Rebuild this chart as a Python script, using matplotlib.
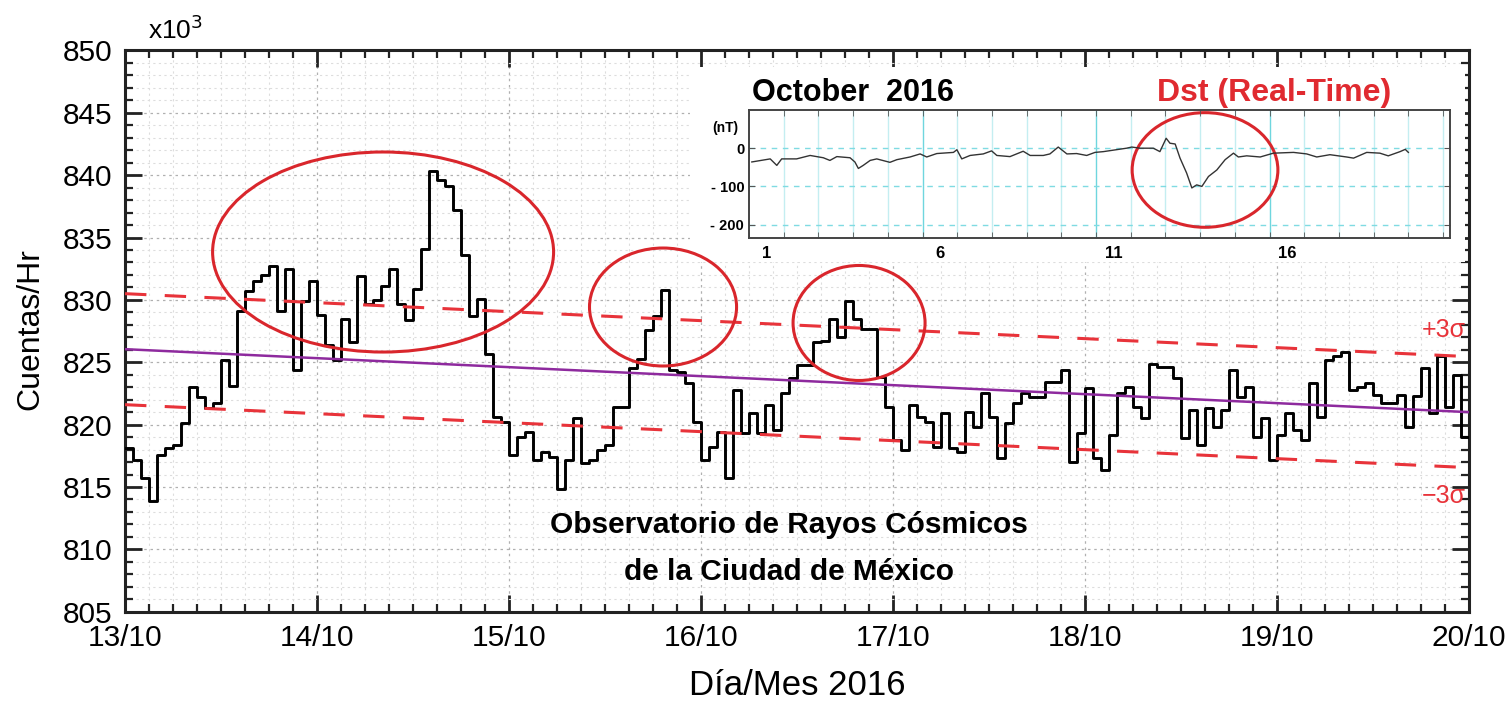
import numpy as np
import matplotlib
matplotlib.use('Agg')
from matplotlib import pyplot as plt
from matplotlib.patches import Ellipse, Rectangle

plt.rcParams['font.family'] = ['Liberation Sans', 'DejaVu Sans']

# cuentas por hora (x10^3), 13/10 00h .. 19/10 23h
counts = [818.1, 817.2, 815.7, 813.9, 817.6, 818.1, 818.4, 820.1, 823.0, 822.2, 821.3, 821.7,
          825.2, 823.1, 829.1, 830.7, 831.5, 832.0, 832.7, 829.1, 832.5, 824.4, 829.9, 831.5,
          828.8, 826.4, 825.2, 828.5, 826.6, 831.9, 829.7, 830.0, 831.1, 832.5, 829.7, 828.4,
          830.9, 834.1, 840.3, 839.6, 839.1, 837.2, 833.6, 828.7, 830.1, 825.7, 820.6, 820.2,
          817.6, 819.0, 819.4, 817.2, 817.8, 817.4, 814.8, 817.2, 820.5, 816.9, 817.2, 818.0,
          818.4, 821.4, 821.4, 824.5, 825.3, 827.6, 828.7, 830.8, 824.4, 824.2, 823.3, 820.2,
          817.2, 818.2, 819.4, 815.7, 822.8, 819.3, 820.9, 819.3, 821.6, 819.6, 822.5, 823.7,
          824.8, 824.8, 826.6, 826.7, 828.5, 827.0, 829.9, 828.5, 827.7, 827.7, 823.8, 821.4,
          818.8, 818.0, 821.6, 820.6, 820.2, 818.2, 820.9, 818.1, 817.8, 821.0, 819.8, 822.5,
          820.6, 817.3, 820.1, 821.7, 822.5, 822.2, 822.2, 823.4, 823.4, 824.4, 817.0, 819.3,
          822.9, 817.3, 816.4, 819.2, 822.5, 823.0, 821.4, 820.5, 824.9, 824.6, 824.6, 823.7,
          818.9, 821.2, 818.4, 821.3, 819.8, 821.2, 824.4, 822.2, 823.0, 819.0, 820.5, 817.2,
          819.2, 820.9, 819.6, 818.8, 823.3, 820.6, 825.2, 825.5, 825.8, 822.8, 823.0, 823.3,
          822.4, 821.7, 821.7, 822.4, 819.8, 822.3, 824.5, 820.9, 825.5, 821.4, 824.0, 819.0]
day_labels = ['13/10', '14/10', '15/10', '16/10', '17/10', '18/10', '19/10', '20/10']

# tendencia y banda de 3 sigma
trend_ends = [826.05, 821.0]
sigma3 = 4.45

# Dst (nT), dia del mes (desde 1 oct 00h)
dst_day = [0.08, 0.61, 0.80, 0.94, 1.37, 1.76, 2.14, 2.33, 2.53, 2.91, 3.05, 3.15, 3.29, 3.49,
           3.68, 4.06, 4.26, 4.64, 4.93, 5.12, 5.41, 5.89, 5.99, 6.13, 6.37, 6.75, 6.99, 7.14,
           7.52, 7.90, 8.10, 8.48, 8.67, 8.91, 9.16, 9.44, 9.73, 9.97, 10.21, 10.88, 11.03,
           11.27, 11.65, 11.84, 12.02, 12.13, 12.28, 12.42, 12.61, 12.76, 12.90, 13.05, 13.24,
           13.48, 13.72, 13.96, 14.10, 14.34, 14.73, 15.11, 15.69, 16.07, 16.36, 16.74, 17.22,
           17.42, 17.80, 18.18, 18.42, 18.76, 18.91, 19.0]
dst_val = [-36, -28, -45, -28, -28, -19, -25, -32, -22, -25, -36, -53, -45, -32,
           -28, -37, -30, -23, -15, -23, -14, -11, -4, -28, -19, -15, -7, -19,
           -22, -8, -19, -19, -15, 3, -15, -14, -19, -11, -9, 0, 3,
           0, 0, -9, 26, 13, 11, -26, -65, -104, -96, -100, -74,
           -57, -30, -13, -23, -20, -23, -13, -11, -15, -23, -17, -23,
           -26, -11, -13, -20, -9, -3, -11]
dst_labels = ['1', '6', '11', '16']

fig = plt.figure(figsize=(15.12, 7.01), dpi=100)
ax = fig.add_axes([0.0827, 0.1274, 0.8889, 0.8006])

hours = np.arange(len(counts) + 1) / 24.0
ax.step(hours, counts + [counts[-1]], where='post', color='black', lw=2.1, zorder=4)

xt = np.array([0, 7])
trend = np.array(trend_ends)
ax.plot(xt, trend, color='#8e2a9e', lw=1.8, zorder=5)
ax.plot(xt, trend + sigma3, color='#e8333a', lw=2.2, dashes=(7, 6), zorder=5)
ax.plot(xt, trend - sigma3, color='#e8333a', lw=2.2, dashes=(7, 6), zorder=5)

# fondo blanco del recuadro (debajo de los circulos)
ax.add_patch(Rectangle((690 / 1512, 1 - 262 / 701), 775 / 1512, 195 / 701,
                       transform=fig.transFigure, fc='white', ec='none', zorder=5.5))

for cx, cy, w, h in [(1.344, 833.84, 1.776, 16.04), (2.802, 829.43, 0.766, 9.46),
                     (3.823, 828.15, 0.6875, 9.22)]:
    ax.add_patch(Ellipse((cx, cy), w, h, fill=False, ec='#d9262c', lw=2.2, zorder=6))

ax.set_xlim(0, 7)
ax.set_ylim(805, 850)
ax.set_xticks(range(8))
ax.set_xticklabels(day_labels)
ax.set_xticks(np.arange(0, 7.01, 0.125), minor=True)
ax.set_yticks(np.arange(805, 851, 5))
ax.set_yticks(np.arange(805, 851, 1), minor=True)
ax.tick_params(which='both', direction='in', top=True, right=True, labelsize=21.5, color='#222222')
ax.tick_params(which='major', length=12, width=2, pad=9)
ax.tick_params(which='minor', length=6, width=1.6)
ax.grid(which='major', color='#b0b0b0', lw=0.9, dashes=(2, 3))
ax.grid(which='minor', color='#dddddd', lw=0.8, dashes=(2, 3))
for sp in ax.spines.values():
    sp.set_linewidth(2.2)
    sp.set_color('#222222')

fig.text(0.02, 0.53, 'Cuentas/Hr', rotation=90, fontsize=23, ha='center', va='center')
fig.text(0.527, 0.022, 'Día/Mes 2016', fontsize=25, ha='center', va='center')
fig.text(0.098, 0.958, r'x10$^3$', fontsize=19, ha='left', va='center')

ax.text(3.46, 811.95, 'Observatorio de Rayos Cósmicos', fontsize=21.5, fontweight='bold',
        ha='center', va='center', zorder=7)
ax.text(3.46, 808.2, 'de la Ciudad de México', fontsize=21.5, fontweight='bold',
        ha='center', va='center', zorder=7)
ax.text(6.985, trend_ends[1] + sigma3 + 2.1, '+3σ', color='#e8333a', fontsize=18,
        ha='right', va='center', zorder=7)
ax.text(6.985, trend_ends[1] - sigma3 - 2.3, '\u22123σ', color='#e8333a', fontsize=18,
        ha='right', va='center', zorder=7)

# recuadro Dst
ins = fig.add_axes([0.4954, 0.6605, 0.4636, 0.1826], zorder=9)
ins.plot(dst_day, dst_val, color='#333333', lw=1.0)
ins.set_xlim(0, 20.2)
ins.set_ylim(-235, 100)
ins.set_xticks([0.5, 5.5, 10.5, 15.5])
ins.set_xticklabels(dst_labels)
ins.set_xticks(np.arange(0, 21, 1), minor=True)
ins.set_yticks([-200, -100, 0])
ins.set_yticklabels(['- 200', '- 100', '0'])
ins.tick_params(axis='x', which='major', length=0, labelsize=12, pad=6)
ins.tick_params(axis='x', which='minor', direction='in', top=True, length=4, color='#555555')
ins.tick_params(axis='y', direction='in', right=True, length=4, labelsize=10.5, color='#555555')
for lab in ins.get_xticklabels() + ins.get_yticklabels():
    lab.set_fontweight('bold')
for d in range(1, 21):
    c = '#6fd6de' if d in (5, 10, 15) else '#c4eef1'
    ins.axvline(d, color=c, lw=1.0, zorder=0)
for v in [-200, -100, 0]:
    ins.axhline(v, color='#7fdbe2', lw=1.0, dashes=(4, 4), zorder=0)
for sp in ins.spines.values():
    sp.set_linewidth(1.4)
    sp.set_color('#444444')
ins.text(-0.015, 0.86, '(nT)', transform=ins.transAxes, fontsize=10, fontweight='bold',
         ha='right', va='center')
ins.add_patch(Ellipse((13.14, -57), 4.2, 300, fill=False, ec='#d9262c', lw=2.2, clip_on=False))
fig.text(0.4974, 0.867, 'October  2016', fontsize=22, fontweight='bold', ha='left',
         va='center', zorder=10)
fig.text(0.8426, 0.867, 'Dst (Real-Time)', fontsize=23, fontweight='bold', color='#e02a30',
         ha='center', va='center', zorder=10)

fig.savefig('out.png', dpi=100)
